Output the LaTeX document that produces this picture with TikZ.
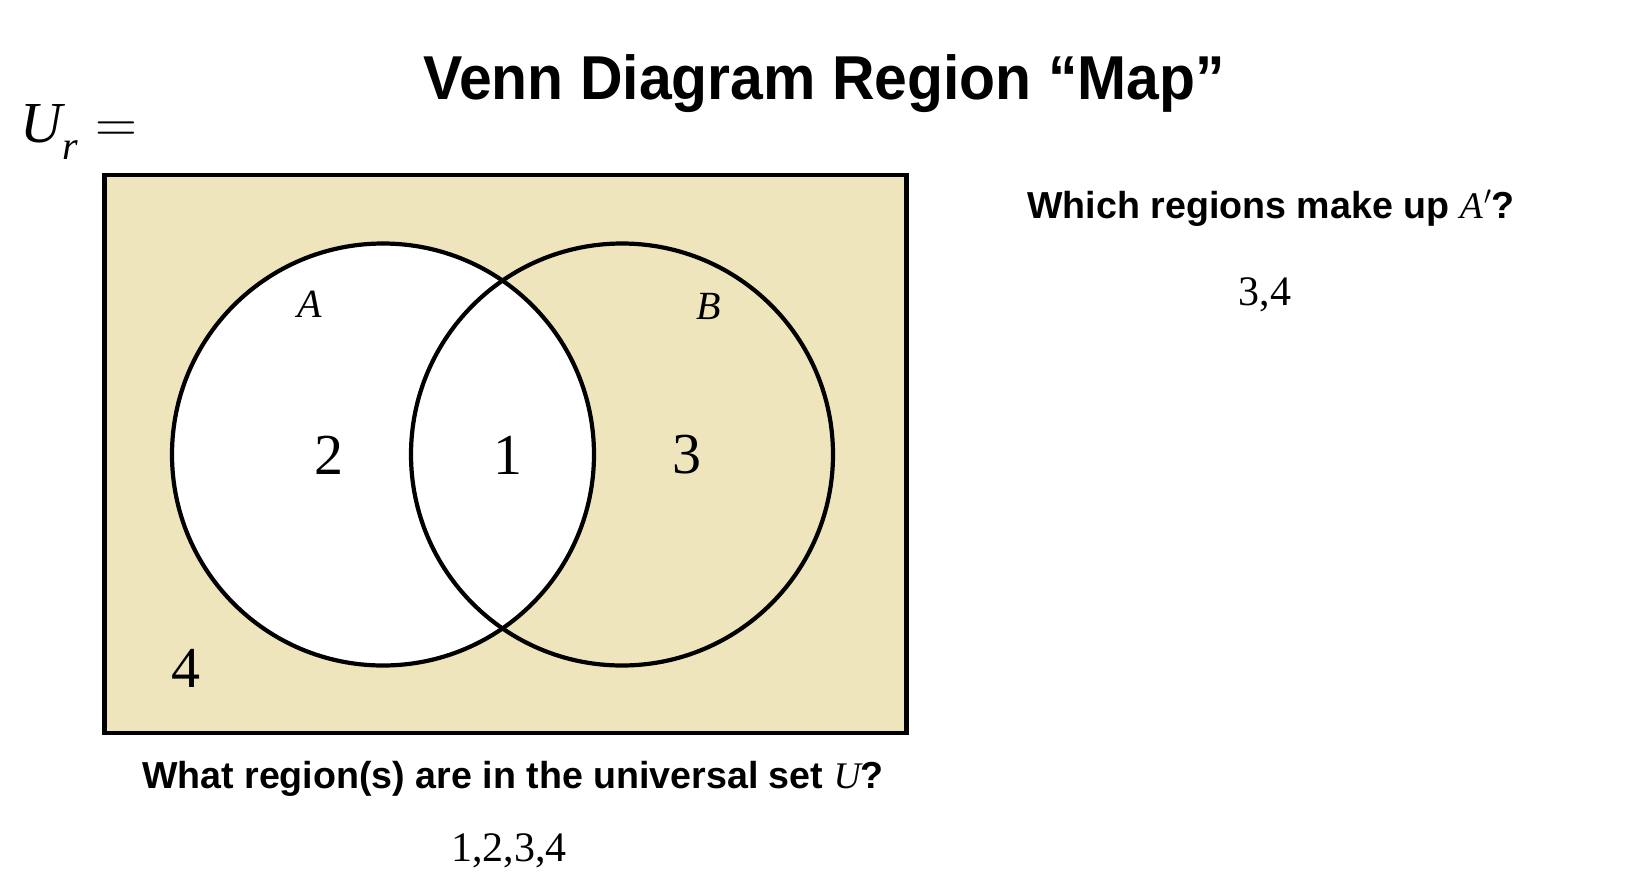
\RequirePackage{fix-cm}
\documentclass[tikz,border=0pt]{standalone}
\usepackage{fontspec}
\newfontfamily\titlef[FakeStretch=0.95]{Liberation Sans}
\newfontfamily\sansf{Liberation Sans}
\newfontfamily\serff{Liberation Serif}
\newcommand{\vvar}[1]{{\serff\mdseries\itshape #1}}
\definecolor{venbg}{RGB}{239,229,188}
\tikzset{
  title/.style={font=\titlef\bfseries\fontsize{62}{70}\selectfont, inner sep=0pt},
  question/.style={font=\sansf\bfseries\fontsize{37.6}{44}\selectfont, inner sep=0pt},
  answer/.style={font=\serff\fontsize{42}{48}\selectfont, inner sep=0pt},
  regnum/.style={font=\serff\fontsize{58}{64}\selectfont, inner sep=0pt},
  setname/.style={font=\serff\itshape\fontsize{40}{44}\selectfont, inner sep=0pt},
  vennline/.style={draw=black, line width=4.2pt}
}
\begin{document}
\begin{tikzpicture}[x=1pt,y=-1pt]
\useasboundingbox (0,0) rectangle (1642,884);
\fill[white] (0,0) rectangle (1642,884);
% universe
\node[draw=black, fill=venbg, line width=4.8pt, minimum width=802pt, minimum height=558pt, inner sep=0pt] (U) at (505.8,454) {};
\coordinate (ca) at (383,454.5);
\coordinate (cb) at (622,454.5);
\fill[white] (ca) circle (211);
\draw[vennline] (ca) circle (211);
\draw[vennline] (cb) circle (211);
% texts
\node[title] (t) at (824,84) {Venn Diagram Region “Map”};
\node[font=\fontsize{58}{64}\selectfont, inner sep=0pt, anchor=west] (ur) at (20,132) {\vvar{U}\raisebox{-0.28em}{\fontsize{40}{44}\selectfont\vvar{r}}\hspace{0.3em}$=$};
\node[setname] (la) at (310,304) {A};
\node[setname] (lb) at (709,306) {B};
\node[regnum] (r2) at (329,455) {2};
\node[regnum] (r1) at (508,455) {1};
\node[regnum] (r3) at (687,455) {3};
\node[regnum] (r4) at (186,668) {4};
\node[question] (q1) at (1271,208) {Which regions make up \vvar{A}\kern1pt{\serff$'$}?};
\node[question] (q2) at (513,779) {What region(s) are in the universal set \vvar{U}?};
\node[answer] (a1) at (1265,295) {3,4};
\node[answer] (a2) at (509,851) {1,2,3,4};
\end{tikzpicture}
\end{document}
